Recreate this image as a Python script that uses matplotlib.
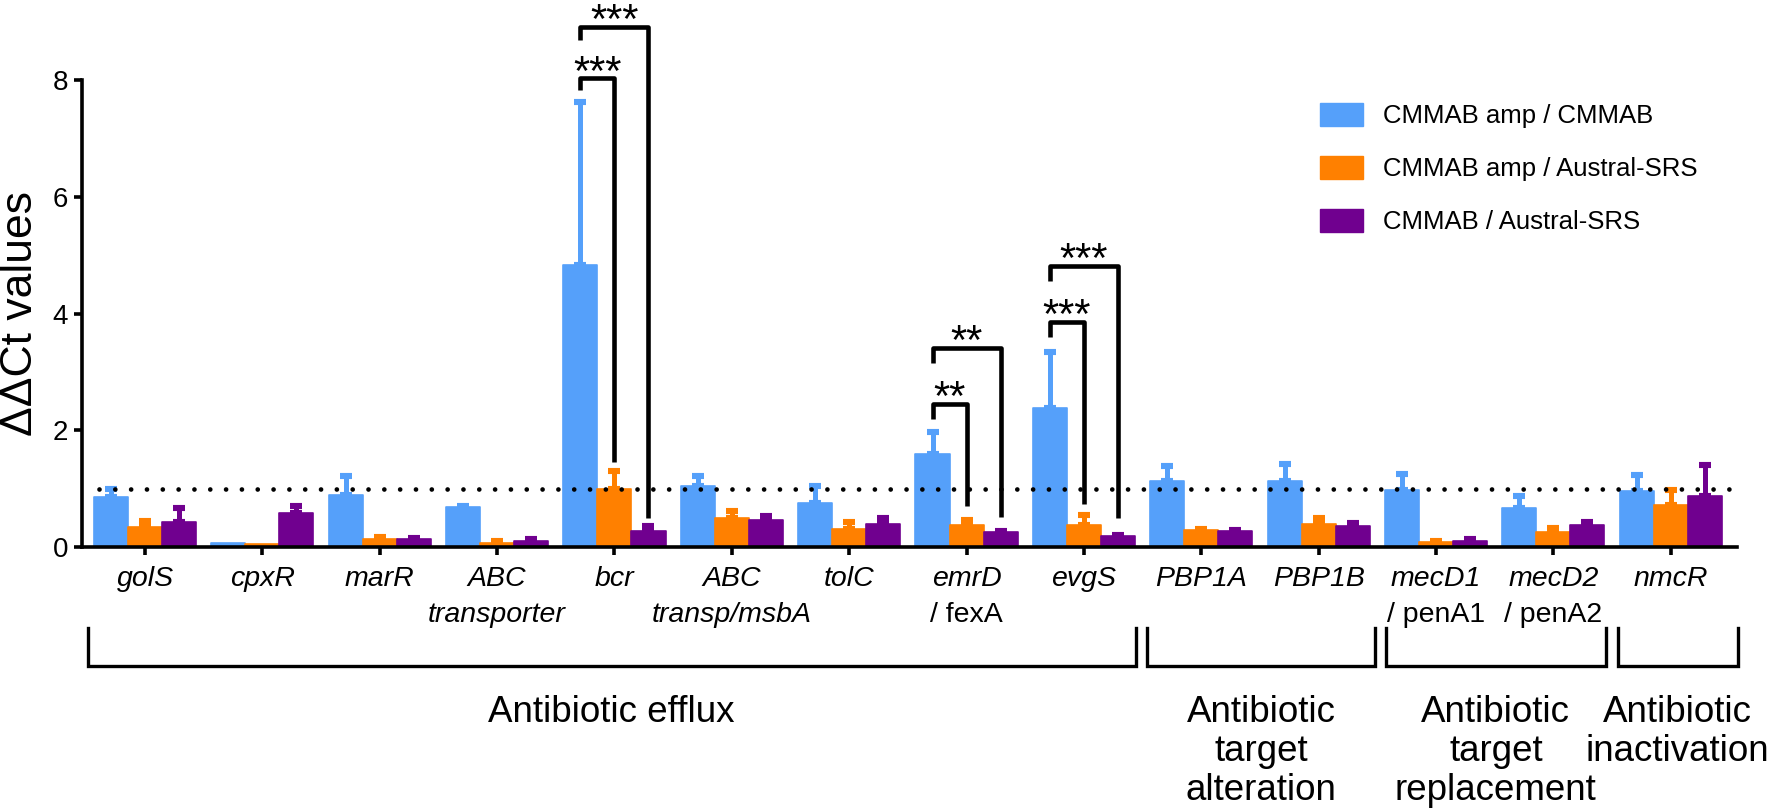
import matplotlib
matplotlib.use('Agg')
import matplotlib.pyplot as plt
import numpy as np
from matplotlib.transforms import blended_transform_factory
from matplotlib.patches import Patch

plt.rcParams['font.family'] = ['Liberation Sans', 'DejaVu Sans']

# ---------------- data ----------------
genes_line1 = ['golS', 'cpxR', 'marR', 'ABC', 'bcr', 'ABC', 'tolC', 'emrD', 'evgS',
               'PBP1A', 'PBP1B', 'mecD1', 'mecD2', 'nmcR']
genes_line2 = ['', '', '', 'transporter', '', 'transp/msbA', '', '/ fexA', '', '',
               '', '/ penA1', '/ penA2', '']
line2_italic = [False, False, False, True, False, True, False, False, False, False,
                False, False, False, False]

series_names = ['CMMAB amp / CMMAB', 'CMMAB amp / Austral-SRS', 'CMMAB / Austral-SRS']
amp_vs_cmmab = [0.86, 0.07, 0.89, 0.69, 4.83, 1.04, 0.76, 1.60, 2.38, 1.13, 1.13, 0.97, 0.67, 0.96]
amp_vs_cmmab_top = [1.00, 0.07, 1.21, 0.70, 7.62, 1.21, 1.04, 1.97, 3.34, 1.38, 1.42, 1.25, 0.87, 1.23]
amp_vs_austral = [0.34, 0.05, 0.13, 0.07, 1.00, 0.49, 0.30, 0.37, 0.37, 0.29, 0.39, 0.09, 0.26, 0.72]
amp_vs_austral_top = [0.45, 0.05, 0.17, 0.10, 1.30, 0.61, 0.42, 0.47, 0.54, 0.31, 0.50, 0.10, 0.33, 0.97]
cmmab_vs_austral = [0.43, 0.58, 0.14, 0.10, 0.27, 0.47, 0.39, 0.26, 0.18, 0.27, 0.36, 0.10, 0.38, 0.87]
cmmab_vs_austral_top = [0.66, 0.70, 0.16, 0.13, 0.36, 0.53, 0.49, 0.27, 0.20, 0.29, 0.41, 0.13, 0.42, 1.40]

group_names = [['Antibiotic efflux'], ['Antibiotic', 'target', 'alteration'],
               ['Antibiotic', 'target', 'replacement'], ['Antibiotic', 'inactivation']]

# significance brackets: gene index, right-hand series, bracket top, leg bottoms, label
sig_gene = [4, 4, 7, 7, 8, 8]
sig_series = [1, 2, 1, 2, 1, 2]
sig_top = [8.03, 8.91, 2.45, 3.41, 3.86, 4.82]
sig_left_bottom = [7.83, 8.68, 2.20, 3.16, 3.60, 4.56]
sig_right_bottom = [1.46, 0.49, 0.70, 0.51, 0.73, 0.50]
sig_label = ['***', '***', '**', '**', '***', '***']

colors = ['#55A0FA', '#FF8000', '#70008F']

# ---------------- layout ----------------
W, H = 1772, 808
fig = plt.figure(figsize=(W / 100, H / 100), dpi=100)
ax = fig.add_axes([82 / W, 1 - 547 / H, (1737 - 82) / W, (547 - 80) / H])

def fy(px):
    return 1 - px / H

x = np.arange(len(genes_line1))
bw = 0.29
offsets = [-bw, 0.0, bw]
means = [amp_vs_cmmab, amp_vs_austral, cmmab_vs_austral]
tops = [amp_vs_cmmab_top, amp_vs_austral_top, cmmab_vs_austral_top]

for k in range(3):
    m = np.array(means[k])
    t = np.array(tops[k])
    xs = x + offsets[k]
    ax.bar(xs, m, width=bw, color=colors[k], edgecolor=colors[k], linewidth=1.2,
           joinstyle='round', zorder=2, label=series_names[k])
    mask = t > m + 0.005
    ax.errorbar(xs[mask], m[mask], yerr=[np.zeros(mask.sum()), (t - m)[mask]],
                fmt='none', ecolor=colors[k], elinewidth=3.6, capsize=4.6,
                capthick=4.4, zorder=2.5)

ax.set_xlim(-0.537, 13.565)
ax.set_ylim(0, 8)
xlo, xhi = ax.get_xlim()
ax.axhline(1.0, xmin=(-0.39 - xlo) / (xhi - xlo), xmax=(13.53 - xlo) / (xhi - xlo),
           color='black', lw=3.4, linestyle=(0, (0.001, 3.35)),
           dash_capstyle='round', zorder=3)

for s in ['top', 'right']:
    ax.spines[s].set_visible(False)
for s in ['left', 'bottom']:
    ax.spines[s].set_linewidth(2.6)
    ax.spines[s].set_zorder(4)

ax.set_yticks([0, 2, 4, 6, 8])
ax.tick_params(axis='y', labelsize=20, length=6, width=2.6, pad=4)
ax.set_xticks(x)
ax.set_xticklabels([])
ax.tick_params(axis='x', length=6, width=2.6)

fig.text(21 / W, fy(313), 'ΔΔCt values', rotation=90, ha='center', va='center',
         fontsize=32)

bt = blended_transform_factory(ax.transData, fig.transFigure)
for i in range(len(genes_line1)):
    ax.text(x[i], fy(586), genes_line1[i], transform=bt, ha='center', va='baseline',
            fontsize=20.5, style='italic')
    if genes_line2[i]:
        ax.text(x[i], fy(622), genes_line2[i], transform=bt, ha='center', va='baseline',
                fontsize=20.5, style='italic' if line2_italic[i] else 'normal')

# category group brackets
brk_left = [-0.49, 8.54, 10.57, 12.55]
brk_right = [8.44, 10.48, 12.45, 13.57]
for g in range(4):
    ax.plot([brk_left[g], brk_left[g], brk_right[g], brk_right[g]],
            [fy(628), fy(666), fy(666), fy(628)], transform=bt, color='black',
            lw=2.4, clip_on=False, solid_joinstyle='miter')
    xc = (brk_left[g] + brk_right[g]) / 2
    for j, line in enumerate(group_names[g]):
        ax.text(xc, fy(722 + 39 * j), line, transform=bt, ha='center',
                va='baseline', fontsize=26.5)

# significance brackets
for i in range(len(sig_gene)):
    xl = x[sig_gene[i]] + offsets[0]
    xr = x[sig_gene[i]] + offsets[sig_series[i]]
    ax.plot([xl, xl, xr, xr],
            [sig_left_bottom[i], sig_top[i], sig_top[i], sig_right_bottom[i]],
            color='black', lw=3.3, clip_on=False, solid_joinstyle='round',
            solid_capstyle='butt', zorder=5)
    ax.text((xl + xr) / 2, sig_top[i] - 0.11, sig_label[i], ha='center',
            va='baseline', fontsize=30, clip_on=False, zorder=5)

handles = [Patch(facecolor=c, edgecolor=c) for c in colors]
fig.legend(handles, series_names, loc='upper left',
           bbox_to_anchor=(1320 / W, fy(103)), frameon=False, fontsize=18.5,
           borderpad=0, borderaxespad=0, handlelength=1.68, handleheight=1.01,
           handletextpad=0.78, labelspacing=1.07)

fig.savefig('out.png', dpi=100)
